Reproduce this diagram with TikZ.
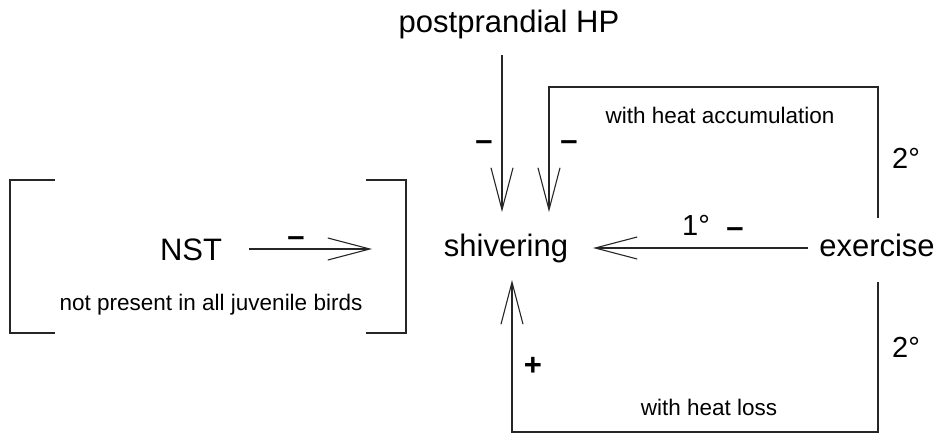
\documentclass[tikz,border=0pt]{standalone}
\usepackage{fontspec}
\setmainfont{Liberation Sans}
\usetikzlibrary{arrows.meta}
\tikzset{
  big/.style={inner sep=0pt, font=\fontsize{31}{36}\selectfont, anchor=base},
  small/.style={inner sep=0pt, font=\fontsize{22.5}{26}\selectfont, anchor=base},
  deg/.style={inner sep=0pt, font=\fontsize{29}{34}\selectfont, anchor=base},
  sign/.style={inner sep=0pt, font=\fontsize{31}{36}\selectfont\bfseries},
  conn/.style={line width=1.1pt, draw=black!85},
  arr/.style={conn, -{Straight Barb[length=42pt,width=22pt,line width=1.1pt]}},
}
\begin{document}
\begin{tikzpicture}[x=1pt,y=-1pt]
\useasboundingbox (0,0) rectangle (949,434);
% texts
\node[big] (pp) at (509,32) {postprandial HP};
\node[big] (shiv) at (506,256) {shivering};
\node[big] (ex) at (877,256) {exercise};
\node[big] (nst) at (191,260) {NST};
\node[small] (acc) at (720,123) {with heat accumulation};
\node[small] (loss) at (709,415) {with heat loss};
\node[small] (np) at (211,310) {not present in all juvenile birds};
\node[deg] (d1) at (696,235) {1°};
\node[deg] (d2a) at (906,168) {2°};
\node[deg] (d2b) at (906,357) {2°};
% signs
\node[sign] (m1) at (484,146) {–};
\node[sign] (m2) at (569,146) {–};
\node[sign] (m3) at (296,242) {–};
\node[sign] (m4) at (735,233) {–};
\node[sign] (pl) at (533,366) {+};
% coordinates
\coordinate (ppS) at (502,55);
\coordinate (t1) at (502,212);
\coordinate (t2) at (549,212);
\coordinate (exT) at (878,218);
\coordinate (c1) at (878,87);
\coordinate (c2) at (549,87);
\coordinate (exB) at (878,282);
\coordinate (c3) at (878,432);
\coordinate (c4) at (512,432);
\coordinate (t3) at (512,280);
\coordinate (hS) at (808,248);
\coordinate (hT) at (593,248);
\coordinate (nS) at (249,249);
\coordinate (nT) at (372,249);
% connectors
\draw[arr] (ppS) -- (t1);
\draw[arr] (exT) -- (c1) -- (c2) -- (t2);
\draw[arr] (hS) -- (hT);
\draw[arr] (exB) -- (c3) -- (c4) -- (t3);
\draw[arr] (nS) -- (nT);
% brackets
\draw[conn] (55,180) -- (10,180) -- (10,333) -- (55,333);
\draw[conn] (366,180) -- (406,180) -- (406,333) -- (366,333);
\end{tikzpicture}
\end{document}
